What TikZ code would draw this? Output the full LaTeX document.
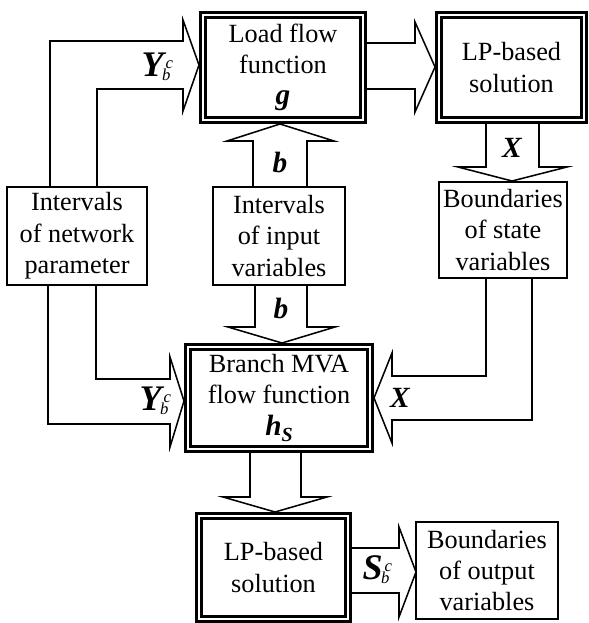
\documentclass[tikz,border=0pt]{standalone}
\usepackage{fontspec}
\setmainfont{Liberation Serif}
\usetikzlibrary{backgrounds}
\newcommand\SubSup[3]{{\fontsize{27}{27}\selectfont\bfseries\itshape #1}\kern-0.12em\rlap{\raisebox{0.62em}{\fontsize{12.5}{12.5}\selectfont\itshape\kern0.22em #3}}\raisebox{-0.32em}{\fontsize{12.5}{12.5}\selectfont\itshape #2}}
\newcommand\BI[1]{{\fontsize{22}{22}\selectfont\bfseries\itshape #1}}
\begin{document}
\begin{tikzpicture}[x=0.75pt,y=-0.75pt,
  base/.style={font=\fontsize{19.7}{23.5}\selectfont, align=center, inner sep=0pt, fill=white},
  sbox/.style={base, draw, line width=1.15pt},
  dbox/.style={base, draw, line width=1.9pt, double, double distance=1.6pt},
  blk/.style={line width=1.15pt, line join=miter},
  lab/.style={inner sep=0pt}]
\useasboundingbox (0,0) rectangle (588,623);
% boxes
\node[dbox, minimum width=120pt, minimum height=78.75pt] (lf) at (283,67.5) {Load flow\\function\\\BI{g}};
\node[dbox, minimum width=108.75pt, minimum height=78.75pt] (lp1) at (511.5,67.5) {LP-based\\solution};
\node[sbox, minimum width=96pt, minimum height=72pt] (bst) at (503,230) {Boundaries\\of state\\variables};
\node[sbox, minimum width=105pt, minimum height=73.5pt] (net) at (77,236) {Intervals\\of network\\parameter};
\node[sbox, minimum width=99pt, minimum height=73.5pt] (inp) at (279,236) {Intervals\\of input\\variables};
\node[dbox, minimum width=136.5pt, minimum height=76.5pt] (br) at (279,398) {Branch MVA\\flow function\\{\BI{h}\raisebox{-0.25em}{\fontsize{15}{15}\selectfont\bfseries\itshape S}}};
\node[dbox, minimum width=111.75pt, minimum height=77.25pt] (lp2) at (273.5,567.5) {LP-based\\solution};
\node[sbox, minimum width=106.5pt, minimum height=72.75pt] (bout) at (487,570.5) {Boundaries\\of output\\variables};
% block arrows
\begin{scope}[on background layer]
\draw[blk] (net.north -| 50,0) -- (50,41) -- (183,41) -- (183,20) -- (199,65) -- (183,111) -- (183,89) -- (97,89) -- (net.north -| 97,0);
\draw[blk] (lf.east |- 0,43) -- (415,43) -- (415,22) -- (435,67) -- (415,112) -- (415,89) -- (lf.east |- 0,89);
\draw[blk] (inp.north -| 253,0) -- (253,141) -- (227,141) -- (280,124) -- (334,141) -- (307,141) -- (inp.north -| 307,0);
\draw[blk] (lp1.south -| 486,0) -- (486,167) -- (458,167) -- (512,181) -- (567,167) -- (539,167) -- (lp1.south -| 539,0);
\draw[blk] (inp.south -| 255,0) -- (255,327) -- (228,327) -- (282,343) -- (335,327) -- (307,327) -- (inp.south -| 307,0);
\draw[blk] (net.south -| 96,0) -- (96,379) -- (170,379) -- (170,357) -- (184,401) -- (170,447) -- (170,424) -- (48,424) -- (net.south -| 48,0);
\draw[blk] (bst.south -| 486,0) -- (486,376) -- (392,376) -- (392,353) -- (374,398) -- (392,443) -- (392,420) -- (532,420) -- (bst.south -| 532,0);
\draw[blk] (br.south -| 250,0) -- (250,497) -- (223,497) -- (275,512) -- (327,497) -- (301,497) -- (br.south -| 301,0);
\draw[blk] (lp2.east |- 0,548) -- (399,548) -- (399,527) -- (416,572) -- (399,617) -- (399,593) -- (lp2.east |- 0,593);
\end{scope}
% labels
\node[lab] (l1) at (156,67) {\SubSup{Y}{b}{c}};
\node[lab] (l2) at (280,162) {\BI{b}};
\node[lab] (l3) at (512,148) {\BI{X}};
\node[lab] (l4) at (281,308) {\BI{b}};
\node[lab] (l5) at (154,401) {\SubSup{Y}{b}{c}};
\node[lab] (l6) at (400,398) {\BI{X}};
\node[lab] (l7) at (376,570) {\SubSup{S}{b}{c}};
\end{tikzpicture}
\end{document}
